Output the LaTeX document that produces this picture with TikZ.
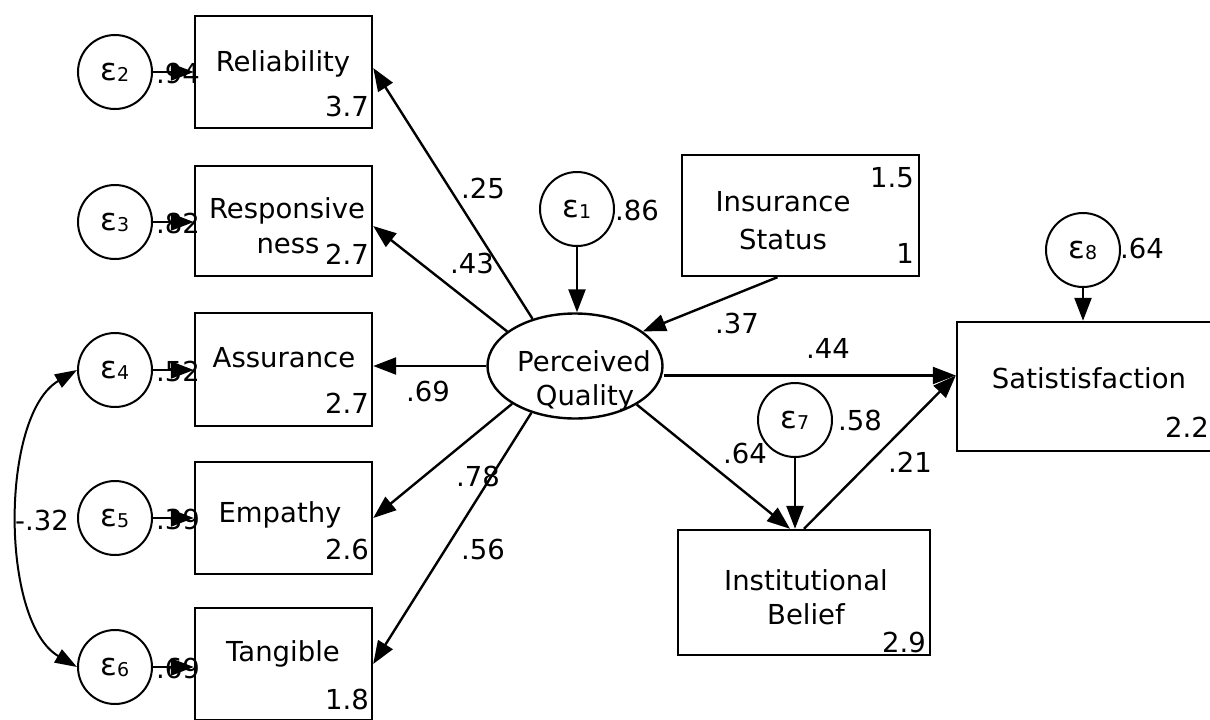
\documentclass[tikz,border=0pt]{standalone}
\usepackage{fontspec}
\setmainfont{DejaVu Sans}
\usetikzlibrary{arrows.meta,shapes.geometric}
\newcommand{\epsl}[1]{{\fontsize{31}{31}\selectfont ε}\kern-0.5pt\raisebox{-1pt}{\fontsize{19}{19}\selectfont #1}}
\begin{document}
\begin{tikzpicture}[x=1pt,y=-1pt,
  font=\fontsize{27.5}{32}\selectfont,
  box/.style={draw, line width=2.4pt, rectangle, inner sep=0pt},
  errc/.style={draw, line width=2pt, circle, minimum size=74pt, inner sep=0pt},
  lat/.style={draw, line width=2.4pt, ellipse, minimum width=175pt, minimum height=105pt, inner sep=0pt},
  txt/.style={inner sep=0pt, align=center},
  val/.style={inner sep=0pt, anchor=east},
  arr/.style={line width=2.4pt, -{Triangle[length=23pt,width=17pt]}},
  darr/.style={line width=2pt, {Triangle[length=22pt,width=15pt]}-{Triangle[length=22pt,width=15pt]}}
]
\useasboundingbox (0,0) rectangle (1210,720);
\clip (0,0) rectangle (1210,720);

% observed boxes
\node[box, minimum width=177pt, minimum height=112pt] (rel) at (283.5,72) {};
\node[box, minimum width=177pt, minimum height=110pt] (resp) at (283.5,221) {};
\node[box, minimum width=177pt, minimum height=113pt] (ass) at (283.5,369.5) {};
\node[box, minimum width=177pt, minimum height=112pt] (emp) at (283.5,518) {};
\node[box, minimum width=177pt, minimum height=112pt] (tan) at (283.5,664) {};
\node[box, minimum width=237pt, minimum height=121pt] (ins) at (800.5,215.5) {};
\node[box, minimum width=265pt, minimum height=129pt] (sat) at (1089.5,386.5) {};
\node[box, minimum width=252pt, minimum height=125pt] (inst) at (804,592.5) {};
\node[lat] (pq) at (575,366) {};

% box texts
\node[txt] (relt) at (283,64) {Reliability};
\node[val] (relv) at (369,106) {3.7};
\node[txt] (respt) at (287,211) {Responsive};
\node[txt] (respt2) at (288,246) {ness};
\node[val] (respv) at (369,254) {2.7};
\node[txt] (asst) at (284,358) {Assurance};
\node[val] (assv) at (369,403) {2.7};
\node[txt] (empt) at (280,515) {Empathy};
\node[val] (empv) at (369,549) {2.6};
\node[txt] (tant) at (283,654) {Tangible};
\node[val] (tanv) at (369,699) {1.8};
\node[txt] (inst1) at (783,202) {Insurance};
\node[txt] (inst2) at (783,239) {Status};
\node[val] (insv1) at (914,178) {1.5};
\node[val] (insv2) at (914,253) {1};
\node[txt] (satt) at (1089,378) {Satistisfaction};
\node[val] (satv) at (1209,427) {2.2};
\node[txt] (instt1) at (806,580) {Institutional};
\node[txt] (instt2) at (806,614) {Belief};
\node[val] (instv) at (926,642) {2.9};
\node[txt] (pqt1) at (584,361) {Perceived};
\node[txt] (pqt2) at (585,398) {Quality};

% error circles
\node[errc] (e1) at (577,209) {\epsl{1}};
\node[errc] (e2) at (115,72) {\epsl{2}};
\node[errc] (e3) at (115,222) {\epsl{3}};
\node[errc] (e4) at (115,370) {\epsl{4}};
\node[errc] (e5) at (115,518) {\epsl{5}};
\node[errc] (e6) at (115,667) {\epsl{6}};
\node[errc] (e7) at (795,420) {\epsl{7}};
\node[errc] (e8) at (1083,250) {\epsl{8}};

% error variance labels
\node[txt] (l86) at (637,210) {.86};
\node[txt] (l58) at (860,420) {.58};
\node[txt] (l64b) at (1142,248) {.64};
\node[txt] (l94) at (178,73) {.94};
\node[txt] (l82) at (178,223) {.82};
\node[txt] (l52) at (178,371) {.52};
\node[txt] (l39) at (178,519) {.39};
\node[txt] (l69b) at (178,668) {.69};

% error arrows
\draw[arr] (e2.east) -- (rel.west |- e2.east);
\draw[arr] (e3.east) -- (resp.west |- e3.east);
\draw[arr] (e4.east) -- (ass.west |- e4.east);
\draw[arr] (e5.east) -- (emp.west |- e5.east);
\draw[arr] (e6.east) -- (tan.west |- e6.east);
\draw[arr] (e1.south) -- (e1.south |- pq.north);
\draw[arr] (e7.south) -- (e7.south |- inst.north);
\draw[arr] (e8.south) -- (e8.south |- sat.north);

% loadings
\draw[arr] (pq.132) -- ([yshift=4pt]rel.east);
\draw[arr] (pq.153) -- ([yshift=-5pt]resp.east);
\draw[arr] (pq.west) -- (pq.west -| ass.east);
\draw[arr] (pq.211) -- (emp.east);
\draw[arr] (pq.227) -- (tan.east);
\node[txt] (l25) at (483,188) {.25};
\node[txt] (l43) at (472,263) {.43};
\node[txt] (l69) at (428,391) {.69};
\node[txt] (l78) at (478,476) {.78};
\node[txt] (l56) at (483,549) {.56};

% structural paths
\coordinate (satin) at ([yshift=11pt]sat.west);
\draw[arr] ([xshift=-23pt]ins.south) -- (pq.27);
\draw[arr] (pq.east |- satin) -- (satin);
\draw[arr] (pq.-32) -- ([xshift=-14pt]inst.north);
\draw[arr] (inst.north) -- (satin);
\node[txt] (l37) at (737,323) {.37};
\node[txt] (l44) at (828,348) {.44};
\node[txt] (l64) at (745,453) {.64};
\node[txt] (l21) at (910,462) {.21};

% covariance
\draw[darr] (e4.west) .. controls (0,415) and (0,622) .. (e6.west);
\node[txt] (l32) at (42,520) {-.32};
\end{tikzpicture}
\end{document}
